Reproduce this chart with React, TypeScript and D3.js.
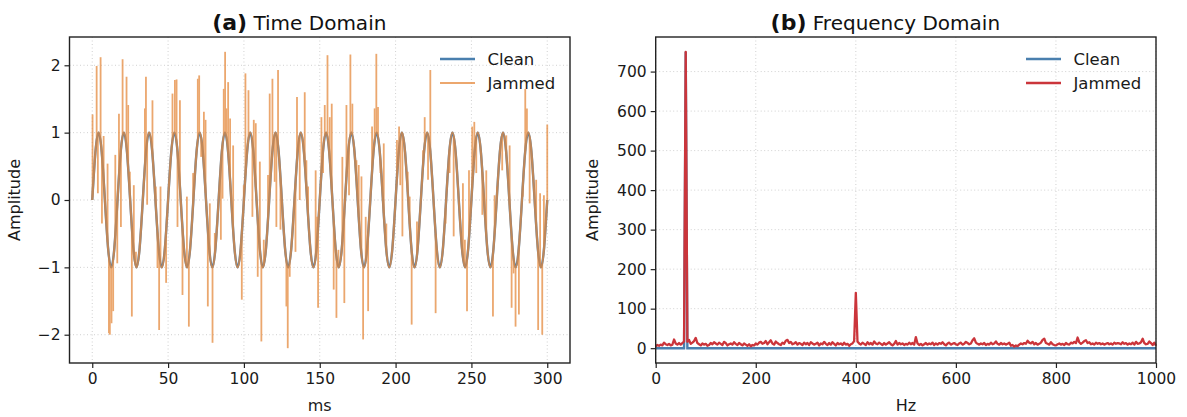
import React, { useEffect, useRef } from 'react';
import * as d3 from 'd3';

// clean 60 Hz tone, read every 1/8 period (16.67 ms / 8)
const cleanStepMs = 1000 / 60 / 8;
const cleanSignal = [
  0, 0.71, 1, 0.71, 0, -0.71, -1, -0.71,
  0, 0.71, 1, 0.71, 0, -0.71, -1, -0.71,
  0, 0.71, 1, 0.71, 0, -0.71, -1, -0.71,
  0, 0.71, 1, 0.71, 0, -0.71, -1, -0.71,
  0, 0.71, 1, 0.71, 0, -0.71, -1, -0.71,
  0, 0.71, 1, 0.71, 0, -0.71, -1, -0.71,
  0, 0.71, 1, 0.71, 0, -0.71, -1, -0.71,
  0, 0.71, 1, 0.71, 0, -0.71, -1, -0.71,
  0, 0.71, 1, 0.71, 0, -0.71, -1, -0.71,
  0, 0.71, 1, 0.71, 0, -0.71, -1, -0.71,
  0, 0.71, 1, 0.71, 0, -0.71, -1, -0.71,
  0, 0.71, 1, 0.71, 0, -0.71, -1, -0.71,
  0, 0.71, 1, 0.71, 0, -0.71, -1, -0.71,
  0, 0.71, 1, 0.71, 0, -0.71, -1, -0.71,
  0, 0.71, 1, 0.71, 0, -0.71, -1, -0.71,
  0, 0.71, 1, 0.71, 0, -0.71, -1, -0.71,
  0, 0.71, 1, 0.71, 0, -0.71, -1, -0.71,
  0, 0.71, 1, 0.71, 0, -0.71, -1, -0.71,
  0,
];

// impulses riding on the jammed trace: [ms, value at the tip]
const jamSpikes: [number, number][] = [
  [0.2, 1.27], [2.9, 1.99], [3.7, 0.1], [5.5, 2.12], [6.4, -0.35], [7.5, 0.95], [10.1, 0.54],
  [11.0, -1.98], [11.6, -2.0], [12.7, -1.83], [13.8, -1.65], [15.2, 0.67], [16.5, -0.94],
  [17.6, 1.28], [18.9, -0.4], [20.0, 2.09], [22.6, 1.83], [23.7, 1.41], [24.8, 0.42],
  [26.1, -1.73], [27.4, 0.22], [28.8, -0.77], [34.7, 1.36], [35.4, 1.83], [36.2, -0.07],
  [39.7, 1.48], [41.9, 0.2], [43.0, -1.01], [44.1, -1.93], [45.0, 0.2], [48.7, -1.23],
  [52.9, 1.58], [54.5, 1.78], [55.6, 1.79], [56.2, -0.4], [57.8, 1.48], [59.5, -1.41],
  [62.4, 0.05], [63.7, -1.88], [66.5, 0.4], [69.6, 1.8], [70.5, 1.85], [71.8, 0.64],
  [73.6, 1.31], [74.7, 1.19], [76.2, -1.58], [77.5, -0.05], [79.3, -2.12], [80.8, -0.49],
  [84.8, -0.59], [85.9, 0.02], [86.7, 1.65], [87.6, 2.2], [88.5, 1.36], [89.6, 1.75],
  [90.9, 1.21], [92.9, 0.81], [98.6, -1.48], [99.9, 0.22], [101.0, 1.88], [103.0, 1.63],
  [105.6, -0.25], [106.5, 1.19], [107.8, 1.14], [109.1, -1.14], [110.5, 0.57], [111.5, -2.1],
  [113.1, -0.59], [115.9, 0.37], [117.0, 1.58], [118.8, 1.8], [120.3, 0.27], [121.4, -0.4],
  [122.5, 1.93], [124.1, -0.44], [128.0, -1.58], [128.9, -2.2], [130.2, -1.14], [131.3, -0.69],
  [134.0, -0.77], [135.0, 1.53], [136.8, 0.0], [140.1, 1.6], [141.2, 0.59], [142.3, 0.2],
  [147.3, 0.44], [148.2, -0.25], [148.9, -1.6], [151.1, 1.23], [152.2, 0.4], [153.3, 1.41],
  [155.1, 2.15], [156.6, 1.23], [157.9, 1.43], [159.2, -1.33], [161.0, -1.75], [162.3, -0.74],
  [164.9, 0.64], [166.2, -1.53], [167.6, 1.41], [169.3, 0.07], [170.2, 2.16], [171.5, 1.43],
  [174.2, 0.59], [175.7, 0.52], [177.5, 0.35], [178.6, -2.07], [180.3, -0.25], [181.9, -1.65],
  [184.5, 1.09], [186.2, 1.36], [187.3, 2.17], [188.4, 1.38], [190.0, 0.4], [192.2, 0.84],
  [193.9, -0.35], [200.9, 0.89], [202.3, 1.09], [203.1, 0.22], [204.5, -0.54], [208.0, 0.42],
  [209.3, 0.05], [210.6, -1.85], [214.1, -0.32], [218.1, 0.74], [219.2, 1.23], [221.4, 0.3],
  [222.9, 1.93], [226.4, -1.68], [233.0, -0.35], [235.6, 0.4], [238.3, -0.54], [244.4, 0.25],
  [245.7, -0.59], [247.1, -1.65], [248.4, 0.44], [250.5, 1.09], [251.9, 1.16], [253.2, 0.4],
  [257.2, -0.22], [259.8, 0.44], [264.2, -1.73], [265.3, 0.07], [266.8, 0.2], [270.3, 0.44],
  [271.7, 0.94], [273.0, 0.96], [275.2, 0.81], [276.5, -1.6], [277.8, -1.09], [279.1, -1.88],
  [281.3, -1.7], [283.9, 0.05], [285.5, 1.65], [286.6, 1.36], [288.4, -0.05], [292.7, 0.3],
  [294.0, -1.93], [295.3, 0.1], [296.7, -2.0], [297.8, 0.07], [300.0, 1.12],
];

// spectrum bins, 10/3 Hz apart, 0..1000 Hz
const binHz = 10 / 3;
const jammedSpectrum = [
  5, 8, 6, 9, 7, 14, 10, 8, 11, 7, 9, 22, 12, 9, 13,
  9, 13, 17, 750, 16, 21, 11, 14, 18, 26, 13, 10, 7, 12, 9,
  11, 6, 8, 13, 10, 15, 12, 9, 14, 11, 8, 16, 13, 7, 10,
  12, 9, 15, 11, 8, 13, 10, 7, 12, 9, 6, 10, 5, 8, 7,
  12, 9, 14, 16, 11, 13, 18, 10, 15, 20, 12, 9, 17, 13, 10,
  8, 14, 11, 19, 21, 13, 16, 10, 12, 15, 9, 13, 11, 8, 14,
  10, 13, 8, 15, 12, 9, 11, 14, 7, 12, 10, 16, 11, 8, 13,
  9, 15, 11, 7, 13, 10, 12, 8, 14, 9, 11, 6, 10, 12, 18,
  140, 17, 12, 9, 14, 11, 8, 15, 10, 13, 9, 17, 12, 10, 14,
  11, 8, 13, 9, 12, 15, 10, 7, 11, 18, 9, 13, 10, 12, 8,
  11, 9, 14, 10, 13, 9, 28, 12, 8, 11, 7, 10, 13, 9, 12,
  10, 14, 8, 12, 9, 13, 11, 15, 10, 7, 12, 14, 9, 11, 13,
  10, 8, 12, 14, 9, 11, 16, 13, 10, 12, 20, 25, 14, 11, 9,
  12, 10, 13, 8, 11, 9, 14, 10, 12, 17, 11, 9, 13, 10, 12,
  9, 11, 14, 6, 8, 4, 7, 5, 9, 12, 10, 13, 11, 19, 14,
  12, 16, 10, 13, 9, 11, 14, 21, 24, 13, 11, 9, 15, 10, 8,
  7, 10, 12, 9, 11, 8, 13, 10, 9, 14, 12, 16, 13, 27, 15,
  11, 14, 18, 20, 13, 15, 10, 12, 9, 14, 11, 13, 10, 12, 9,
  11, 13, 10, 12, 9, 14, 11, 13, 12, 10, 15, 11, 13, 9, 12,
  10, 14, 9, 16, 11, 12, 15, 24, 13, 10, 11, 17, 13, 8, 14,
  6,
];
// clean spectrum: a single line at 60 Hz, flat elsewhere
const cleanSpectrum: [number, number][] = [[0, 0], [56.7, 0], [60, 750], [63.3, 0], [1000, 0]];

const timeTicks = [0, 50, 100, 150, 200, 250, 300];
const ampTicks = [-2, -1, 0, 1, 2];
const hzTicks = [0, 200, 400, 600, 800, 1000];
const specTicks = [0, 100, 200, 300, 400, 500, 600, 700];
const legendLabels = ['Clean', 'Jammed'];

const FONT = 'DejaVu Sans';
const BLUE = '#4a7fae';
const ORANGE = '#e58a3e';
const RED = '#cb353b';

const App = () => {
  const ref = useRef<SVGSVGElement>(null);

  useEffect(() => {
    const svg = d3.select(ref.current);
    svg.selectAll('*').remove();

    const top = 37, bottom = 363;

    const panel = (opts: any) => {
      const { left, right, x, y, xTicks, yTicks, title, tag, xLabel, yLabelX, colors } = opts;
      const g = svg.append('g');

      // grid
      g.append('g').selectAll('line').data(xTicks).enter().append('line')
        .attr('x1', (d: number) => x(d)).attr('x2', (d: number) => x(d))
        .attr('y1', top).attr('y2', bottom)
        .attr('stroke', '#cccccc').attr('stroke-width', 0.9).attr('stroke-dasharray', '1,2.5');
      g.append('g').selectAll('line').data(yTicks).enter().append('line')
        .attr('x1', left).attr('x2', right)
        .attr('y1', (d: number) => y(d)).attr('y2', (d: number) => y(d))
        .attr('stroke', '#cccccc').attr('stroke-width', 0.9).attr('stroke-dasharray', '1,2.5');

      const plot = g.append('g');

      // axes
      const fmt = d3.format('d');
      const ax = g.append('g').attr('transform', `translate(0,${bottom})`)
        .call(d3.axisBottom(x).tickValues(xTicks).tickFormat(fmt).tickSize(5).tickPadding(5).tickSizeOuter(0));
      const ay = g.append('g').attr('transform', `translate(${left},0)`)
        .call(d3.axisLeft(y).tickValues(yTicks).tickFormat(fmt).tickSize(5).tickPadding(4).tickSizeOuter(0));
      [ax, ay].forEach(a => {
        a.select('.domain').remove();
        a.selectAll('line').attr('stroke', '#222').attr('stroke-width', 1.2);
        a.selectAll('text').attr('font-family', FONT).attr('font-size', 15.5).attr('fill', '#1a1a1a');
      });

      g.append('rect')
        .attr('x', left).attr('y', top).attr('width', right - left).attr('height', bottom - top)
        .attr('fill', 'none').attr('stroke', '#222').attr('stroke-width', 1.4);

      // labels
      g.append('text')
        .attr('x', (left + right) / 2).attr('y', 411)
        .attr('text-anchor', 'middle').attr('font-family', FONT).attr('font-size', 16).attr('fill', '#1a1a1a')
        .text(xLabel);
      g.append('text')
        .attr('transform', `translate(${yLabelX},${(top + bottom) / 2}) rotate(-90)`)
        .attr('text-anchor', 'middle').attr('font-family', FONT).attr('font-size', 16).attr('fill', '#1a1a1a')
        .text('Amplitude');

      const t = g.append('text')
        .attr('x', (left + right) / 2 - 20.5).attr('y', 30)
        .attr('text-anchor', 'middle').attr('font-family', FONT).attr('fill', '#111');
      t.append('tspan').attr('font-weight', 'bold').attr('font-size', 22).text(tag);
      t.append('tspan').attr('font-size', 20).text(' ' + title);

      // legend
      const lg = g.append('g').selectAll('g').data(legendLabels).enter().append('g')
        .attr('transform', (d: string, i: number) => `translate(${right - 130},${59 + i * 24})`);
      lg.append('line').attr('x1', 0).attr('x2', 35).attr('y1', 0).attr('y2', 0)
        .attr('stroke', (d: string, i: number) => colors[i])
        .attr('stroke-width', (d: string, i: number) => (i === 1 && tag === '(a)' ? 1.8 : 2.4))
        .attr('stroke-opacity', (d: string, i: number) => (i === 1 && tag === '(a)' ? 0.75 : 1));
      lg.append('text').attr('x', 47.5).attr('y', 0).attr('dy', '0.35em')
        .attr('font-family', FONT).attr('font-size', 16.5).attr('fill', '#1a1a1a')
        .text((d: string) => d);

      return plot;
    };

    // (a) time domain
    const xT = d3.scaleLinear().domain([-15, 315]).range([69.5, 570]);
    const yT = d3.scaleLinear().domain([-2.42, 2.42]).range([bottom, top]);
    const plotA = panel({
      left: 69.5, right: 570, x: xT, y: yT, xTicks: timeTicks, yTicks: ampTicks,
      title: 'Time Domain', tag: '(a)', xLabel: 'ms', yLabelX: 20,
      colors: [BLUE, ORANGE],
    });

    const cleanLine = d3.line<number>()
      .x((d, i) => xT(i * cleanStepMs))
      .y(d => yT(d))
      .curve(d3.curveNatural);

    plotA.append('path').attr('d', cleanLine(cleanSignal))
      .attr('fill', 'none').attr('stroke', BLUE).attr('stroke-width', 2.4);

    const n = cleanSignal.length;
    const at = (k: number) => cleanSignal[Math.max(0, Math.min(n - 1, k))];
    const baseAt = (tm: number) => {
      const p = tm / cleanStepMs;
      const i = Math.max(0, Math.min(n - 2, Math.floor(p)));
      const u = p - i;
      const a = at(i - 1), b = at(i), c = at(i + 1), d = at(i + 2);
      return b + 0.5 * u * (c - a + u * (2 * a - 5 * b + 4 * c - d + u * (3 * (b - c) + d - a)));
    };

    const jam = plotA.append('g').attr('opacity', 0.75);
    jam.append('path').attr('d', cleanLine(cleanSignal))
      .attr('fill', 'none').attr('stroke', ORANGE).attr('stroke-width', 2.2);
    jam.selectAll('line').data(jamSpikes).enter().append('line')
      .attr('x1', d => xT(d[0])).attr('x2', d => xT(d[0]))
      .attr('y1', d => yT(baseAt(d[0]))).attr('y2', d => yT(d[1]))
      .attr('stroke', ORANGE).attr('stroke-width', 1.8);

    // (b) frequency domain
    const xF = d3.scaleLinear().domain([0, 1000]).range([655.7, 1156]);
    const yF = d3.scaleLinear().domain([-37.5, 787.5]).range([bottom, top]);
    const plotB = panel({
      left: 655.7, right: 1156, x: xF, y: yF, xTicks: hzTicks, yTicks: specTicks,
      title: 'Frequency Domain', tag: '(b)', xLabel: 'Hz', yLabelX: 598,
      colors: [BLUE, RED],
    });

    plotB.append('path')
      .attr('d', d3.line<[number, number]>().x(d => xF(d[0])).y(d => yF(d[1]))(cleanSpectrum))
      .attr('fill', 'none').attr('stroke', BLUE).attr('stroke-width', 2.4);
    plotB.append('path')
      .attr('d', d3.line<number>().x((d, i) => xF(i * binHz)).y(d => yF(d))(jammedSpectrum))
      .attr('fill', 'none').attr('stroke', RED).attr('stroke-width', 2.3).attr('stroke-linejoin', 'round');
  }, []);

  return (
    <svg ref={ref} width={1187} height={417}
      style={{ position: 'absolute', left: 0, top: 0, background: '#fff' }} />
  );
};

export default App;
